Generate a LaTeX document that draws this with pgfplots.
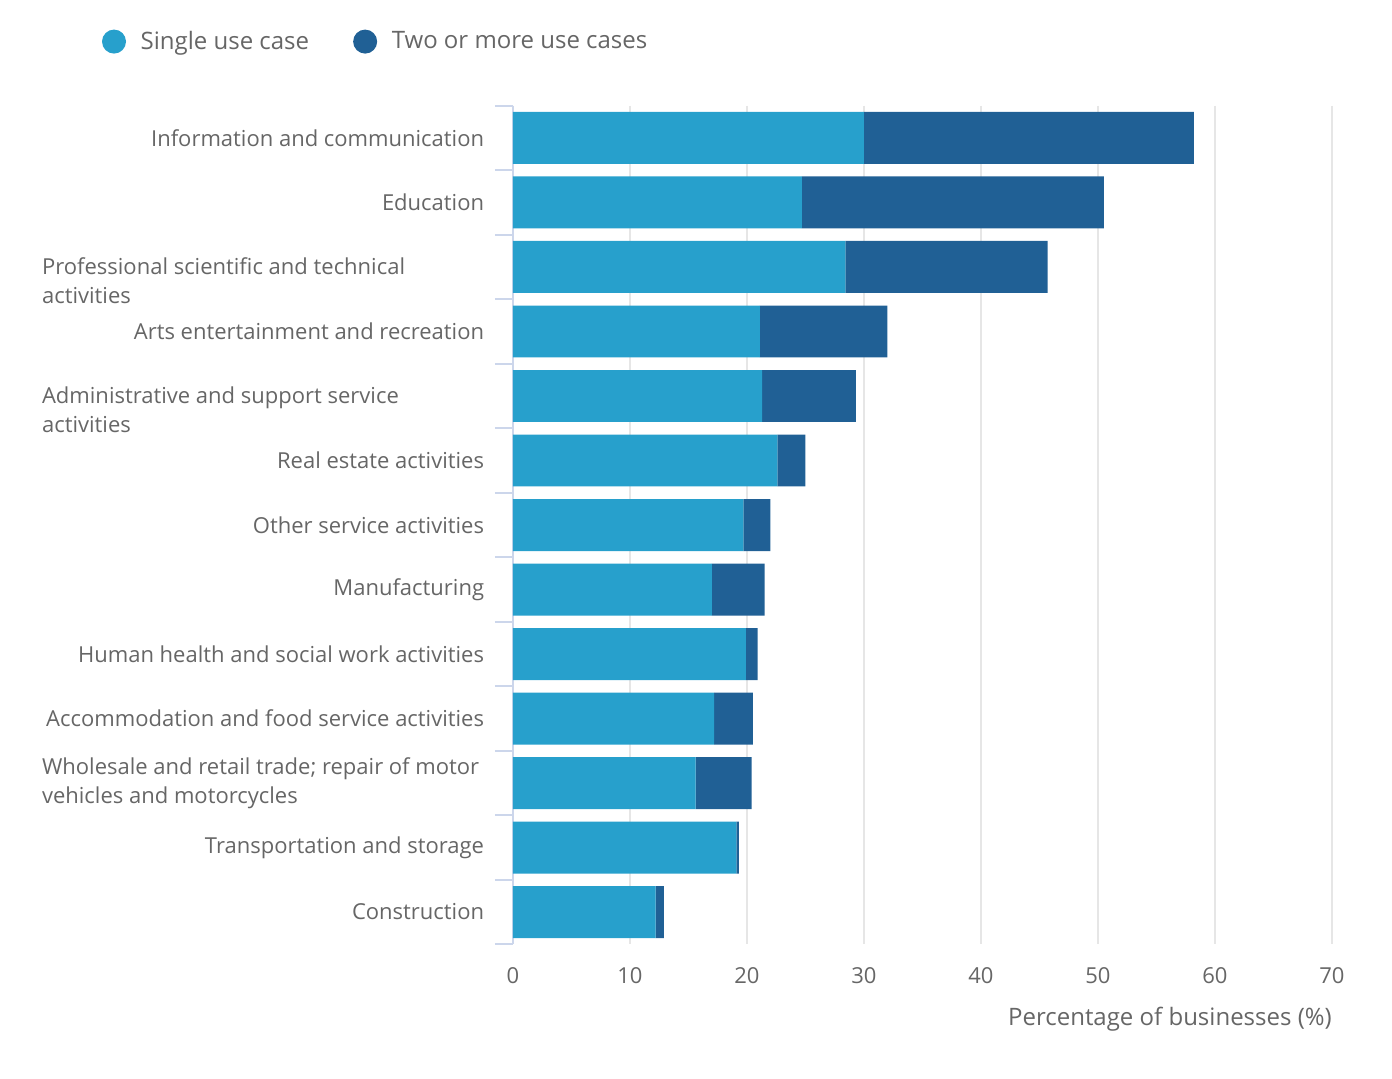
\documentclass[border=0pt]{standalone}
\usepackage{pgfplots}
\pgfplotsset{compat=1.18}
\usepackage{fontspec}
\setmainfont{Open Sans}
\definecolor{single}{HTML}{27A0CC}
\definecolor{multi}{HTML}{206095}
\definecolor{axiscol}{HTML}{CCD6EB}
\definecolor{gridcol}{HTML}{E6E6E6}
\definecolor{txt}{HTML}{666666}
\newcommand{\fs}{\fontsize{16.5pt}{21.75pt}\selectfont}
\newcommand{\fl}{\fontsize{18pt}{22pt}\selectfont}
\begin{document}
\fs
\begin{tikzpicture}[x=1pt,y=1pt]
\useasboundingbox (-384.75,-100.3) rectangle (659.25,708.2);
\begin{axis}[
  at={(0,0)}, anchor=south west,
  scale only axis, width=614.25pt, height=628.9pt,
  xbar stacked, bar width=0.806,
  y dir=reverse,
  xmin=0, xmax=70, ymin=-0.5, ymax=12.5,
  xtick={0,10,...,70},
  ytick={0,...,12},
  minor ytick={-0.5,0.5,...,12.5},
  major tick length=0pt,
  minor tick length=13.5pt,
  every minor tick/.style={draw=axiscol, line width=1.5pt},
  tick align=outside,
  tick pos=left,
  axis lines*=left,
  x axis line style={draw=none},
  y axis line style={draw=axiscol, line width=1.5pt},
  xmajorgrids, major grid style={draw=gridcol, line width=1.2pt},
  /pgf/number format/assume math mode=true,
  ticklabel style={font=\fs, text=txt},
  xticklabel style={yshift=-11.5pt},
  yticklabel style={xshift=-16pt, anchor=east},
  yticklabels={
    Information and communication,
    Education,
    {\raisebox{-0.32em}[0pt][0pt]{\parbox[t]{331.5pt}{\raggedright Professional scientific and technical\\activities}}},
    Arts entertainment and recreation,
    {\raisebox{-0.32em}[0pt][0pt]{\parbox[t]{331.5pt}{\raggedright Administrative and support service\\activities}}},
    Real estate activities,
    Other service activities,
    Manufacturing,
    Human health and social work activities,
    Accommodation and food service activities,
    {\parbox{331.5pt}{\raggedright Wholesale and retail trade; repair of motor\\vehicles and motorcycles}},
    Transportation and storage,
    Construction},
  xlabel={Percentage of businesses (\%)},
  xlabel style={at={(rel axis cs:1,0)}, anchor=north east, inner sep=0pt, yshift=-47pt, text=txt, font=\fl},
  legend columns=2,
  legend style={at={(rel axis cs:-0.5018,1.0765)}, anchor=west, draw=none, fill=none,
    font=\fl, text=txt,
    /tikz/every even column/.append style={column sep=31pt},
    inner sep=0pt, outer sep=0pt},
  legend cell align=left,
  legend image code/.code={\fill[#1, draw=none] (0pt,0pt) circle (9pt); \path (18pt,0pt);},
  clip=false,
]
\addplot[fill=single, draw=none] coordinates {
(30.0,0) (24.7,1) (28.4,2) (21.1,3) (21.3,4) (22.6,5) (19.7,6) (17.0,7) (19.9,8) (17.2,9) (15.6,10) (19.1,11) (12.2,12)};
\addplot[fill=multi, draw=none] coordinates {
(28.2,0) (25.8,1) (17.3,2) (10.9,3) (8.0,4) (2.4,5) (2.3,6) (4.5,7) (1.0,8) (3.3,9) (4.8,10) (0.2,11) (0.7,12)};
\legend{Single use case, Two or more use cases}
\end{axis}
\end{tikzpicture}
\end{document}
